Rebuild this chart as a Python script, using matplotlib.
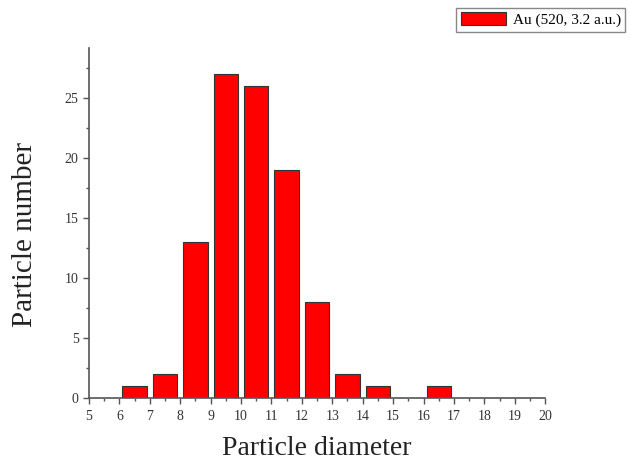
import matplotlib
matplotlib.use('Agg')
import matplotlib.pyplot as plt
from matplotlib.ticker import MultipleLocator

plt.rcParams['font.family'] = ['Liberation Serif', 'DejaVu Serif']

# bin centres (nm) and counts
diameters = [6.5, 7.5, 8.5, 9.5, 10.5, 11.5, 12.5, 13.5, 14.5, 16.5]
counts = [1, 2, 13, 27, 26, 19, 8, 2, 1, 1]
label = 'Au (520, 3.2 a.u.)'

fig = plt.figure(figsize=(6.31, 4.61), dpi=100)
ax = fig.add_axes([0.141, 0.137, 0.723, 0.759])

ax.bar(diameters, counts, width=0.8, color='#ff0000', edgecolor='#333333',
       linewidth=0.8, label=label)

ax.set_xlim(5, 20)
ax.set_ylim(0, 29.2)
ax.xaxis.set_major_locator(MultipleLocator(1))
ax.xaxis.set_minor_locator(MultipleLocator(0.5))
ax.yaxis.set_major_locator(MultipleLocator(5))
ax.yaxis.set_minor_locator(MultipleLocator(2.5))

for s in ['top', 'right']:
    ax.spines[s].set_visible(False)
for s in ['left', 'bottom']:
    ax.spines[s].set_color('#555555')
    ax.spines[s].set_linewidth(1.2)
ax.tick_params(which='major', direction='out', length=4, width=1, colors='#555555',
               labelsize=10, labelcolor='#333333')
ax.tick_params(axis='x', which='major', pad=5)
ax.tick_params(which='minor', direction='out', length=2.5, width=1, colors='#555555')

ax.set_xlabel('Particle diameter', fontsize=20, color='#222222', labelpad=9)
ax.set_ylabel('Particle number', fontsize=21, color='#222222')
ax.yaxis.set_label_coords(-0.112, 0.466)

fig.legend(loc='upper right', bbox_to_anchor=(1.003, 1.0), fontsize=11,
           fancybox=False, edgecolor='#888888', framealpha=1,
           handlelength=3.0, handleheight=0.9, borderpad=0.3, handletextpad=0.4)

fig.savefig('out.png', dpi=100)
